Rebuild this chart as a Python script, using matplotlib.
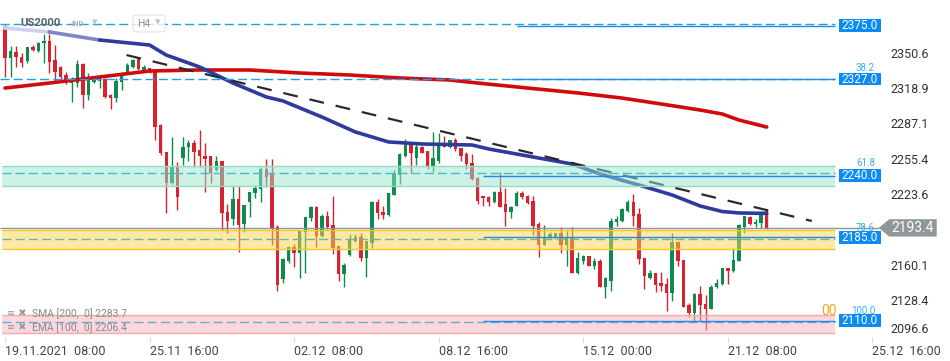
import matplotlib
matplotlib.use("Agg")
import matplotlib.pyplot as plt
from matplotlib.patches import Rectangle, Polygon, FancyBboxPatch

plt.rcParams["font.family"] = ["Roboto", "DejaVu Sans"]

# H4 candles, US2000, 19.11.2021 08:00 .. 22.12.2021 12:00
opens = [2374.6, 2345.9, 2351.2, 2346.8, 2343.2, 2355.7, 2352.1, 2359.3, 2361.1, 2344.1,
         2337.8, 2330.6, 2323.4, 2323.4, 2340.5, 2312.7, 2324.3, 2325.2, 2327.0, 2312.7,
         2310.0, 2324.3, 2333.3, 2337.8, 2345.0, 2335.1, 2336.9, 2333.3, 2285.7, 2261.5,
         2233.7, 2248.0, 2256.1, 2266.0, 2269.6, 2263.3, 2257.9, 2257.9, 2245.4, 2253.4,
         2207.7, 2201.4, 2219.3, 2196.9, 2216.6, 2224.7, 2228.3, 2246.2, 2241.8, 2194.2,
         2147.6, 2163.7, 2176.3, 2170.9, 2189.7, 2202.3, 2212.2, 2186.1, 2204.1, 2196.0,
         2177.2, 2152.0, 2169.1, 2181.6, 2185.2, 2166.4, 2179.9, 2216.6, 2207.7, 2205.0,
         2222.9, 2240.9, 2257.9, 2267.8, 2256.1, 2266.0, 2262.4, 2248.0, 2253.4, 2268.7,
         2266.0, 2272.3, 2265.1, 2259.7, 2251.6, 2238.2, 2222.0, 2221.1, 2216.6, 2225.6,
         2214.9, 2207.7, 2213.1, 2224.7, 2222.0, 2217.5, 2196.9, 2178.1, 2185.2, 2185.2,
         2188.8, 2178.1, 2185.2, 2152.9, 2163.7, 2168.2, 2159.2, 2163.7, 2140.4, 2145.8,
         2198.7, 2199.6, 2208.6, 2216.6, 2205.9, 2166.4, 2148.5, 2152.9, 2144.0, 2143.1,
         2135.0, 2180.7, 2164.6, 2124.2, 2117.0, 2134.1, 2125.1, 2120.6, 2140.4, 2143.1,
         2157.4, 2154.7, 2163.7, 2194.2, 2203.2, 2196.9, 2197.8, 2208.6]
highs = [2375.5, 2356.6, 2356.6, 2350.3, 2356.0, 2357.5, 2360.2, 2367.4, 2367.4, 2357.5,
         2338.5, 2333.3, 2328.8, 2344.1, 2341.0, 2332.4, 2328.8, 2330.6, 2327.5, 2313.6,
         2327.9, 2333.3, 2341.4, 2345.0, 2346.8, 2339.6, 2337.3, 2335.1, 2286.6, 2261.9,
         2275.0, 2252.5, 2275.0, 2272.3, 2272.3, 2281.2, 2269.6, 2258.3, 2257.9, 2253.8,
         2214.9, 2231.0, 2231.0, 2214.3, 2226.0, 2231.9, 2248.0, 2255.2, 2255.2, 2196.0,
         2166.0, 2176.8, 2179.0, 2191.0, 2203.6, 2212.6, 2212.6, 2205.9, 2208.6, 2222.0,
         2177.6, 2161.9, 2187.9, 2187.9, 2188.8, 2182.0, 2217.5, 2219.3, 2213.1, 2225.1,
         2245.4, 2260.6, 2273.2, 2270.5, 2269.6, 2266.9, 2262.8, 2279.5, 2278.6, 2275.9,
         2272.7, 2274.1, 2265.5, 2261.5, 2259.7, 2239.1, 2222.4, 2222.0, 2226.5, 2243.6,
         2229.2, 2212.6, 2226.5, 2226.5, 2222.9, 2222.0, 2198.7, 2196.0, 2189.7, 2189.2,
         2194.2, 2190.6, 2194.2, 2171.8, 2169.1, 2168.6, 2166.4, 2165.5, 2149.3, 2202.3,
         2204.1, 2211.3, 2218.4, 2223.8, 2211.3, 2166.8, 2155.6, 2153.3, 2153.8, 2148.5,
         2188.8, 2181.1, 2165.0, 2126.0, 2135.0, 2141.3, 2133.2, 2142.2, 2147.6, 2157.8,
         2157.8, 2175.4, 2196.9, 2204.5, 2204.1, 2201.4, 2208.6, 2210.4]
lows = [2328.8, 2328.8, 2337.8, 2337.8, 2341.4, 2352.5, 2351.5, 2341.4, 2332.4, 2324.3,
        2326.1, 2322.5, 2306.4, 2319.8, 2301.0, 2308.2, 2323.4, 2318.9, 2310.0, 2300.1,
        2306.4, 2317.1, 2332.4, 2337.3, 2335.1, 2333.3, 2332.8, 2272.3, 2258.8, 2206.8,
        2233.2, 2209.5, 2249.8, 2253.4, 2248.0, 2248.0, 2225.6, 2233.7, 2244.5, 2191.5,
        2188.8, 2196.0, 2171.8, 2189.7, 2203.2, 2220.2, 2216.6, 2230.1, 2178.1, 2136.8,
        2144.0, 2161.9, 2158.3, 2148.5, 2152.9, 2199.6, 2176.3, 2185.2, 2192.4, 2170.0,
        2145.8, 2140.4, 2168.2, 2180.7, 2163.7, 2149.3, 2175.4, 2201.4, 2201.4, 2204.5,
        2222.5, 2232.8, 2257.0, 2242.7, 2249.8, 2260.2, 2246.2, 2243.6, 2251.6, 2265.6,
        2265.1, 2262.4, 2253.4, 2246.2, 2236.4, 2214.9, 2213.1, 2213.1, 2215.7, 2211.8,
        2195.1, 2202.3, 2212.7, 2219.3, 2214.9, 2187.0, 2167.3, 2177.7, 2183.4, 2183.4,
        2170.9, 2159.2, 2152.5, 2152.0, 2161.0, 2158.8, 2156.5, 2140.0, 2130.5, 2136.8,
        2195.1, 2198.7, 2207.7, 2195.1, 2161.0, 2138.6, 2147.6, 2135.9, 2136.8, 2118.8,
        2127.8, 2159.2, 2122.0, 2113.5, 2109.0, 2109.0, 2101.8, 2120.2, 2139.5, 2142.2,
        2143.1, 2153.8, 2163.3, 2188.8, 2196.0, 2194.2, 2193.3, 2192.0]
closes = [2345.9, 2352.1, 2346.8, 2341.4, 2355.7, 2353.0, 2359.3, 2361.1, 2342.3, 2333.3,
          2328.8, 2324.3, 2326.1, 2340.5, 2312.7, 2327.0, 2327.0, 2327.9, 2310.9, 2310.0,
          2325.2, 2330.6, 2339.6, 2344.1, 2336.0, 2337.8, 2333.3, 2283.9, 2260.6, 2233.7,
          2248.9, 2221.1, 2266.0, 2269.6, 2261.5, 2257.9, 2255.2, 2242.7, 2253.4, 2206.8,
          2199.6, 2219.3, 2196.0, 2213.9, 2225.6, 2229.2, 2246.2, 2239.1, 2193.3, 2142.2,
          2165.5, 2176.3, 2170.9, 2190.6, 2203.2, 2212.2, 2186.1, 2204.1, 2194.2, 2175.4,
          2152.0, 2160.1, 2182.5, 2185.2, 2166.4, 2181.6, 2216.6, 2206.8, 2205.0, 2224.7,
          2242.7, 2259.7, 2267.8, 2260.6, 2266.0, 2260.6, 2248.0, 2256.1, 2269.6, 2266.0,
          2272.3, 2264.2, 2257.9, 2250.7, 2237.3, 2217.5, 2220.2, 2216.6, 2225.6, 2212.2,
          2207.7, 2212.2, 2224.7, 2221.1, 2215.7, 2195.1, 2178.1, 2185.2, 2187.9, 2188.8,
          2178.1, 2185.2, 2152.9, 2166.4, 2168.2, 2159.2, 2163.7, 2140.4, 2148.5, 2199.6,
          2201.4, 2210.4, 2216.6, 2204.1, 2165.5, 2150.2, 2152.9, 2142.2, 2141.3, 2135.0,
          2180.7, 2163.7, 2122.4, 2117.0, 2134.1, 2124.2, 2120.6, 2140.4, 2144.0, 2157.4,
          2154.7, 2164.6, 2196.0, 2204.1, 2196.9, 2198.7, 2207.7, 2193.4]

# moving averages read at a few bars
sma_bars = [0, 8, 17, 26, 35, 44, 53, 62, 71, 80, 85, 94, 103, 111, 118, 125, 129, 132, 137]
sma_vals = [2318.9, 2323.4, 2328.8, 2334.2, 2335.1, 2335.1, 2332.4, 2330.6, 2327.9, 2326.1,
            2323.4, 2318.9, 2314.5, 2309.9, 2304.6, 2299.2, 2295.6, 2290.2, 2283.9]
ema_bars = [0, 8, 17, 26, 29, 35, 41, 47, 50, 57, 63, 69, 75, 84, 87, 91, 96, 102, 107,
            114, 120, 125, 129, 132, 137]
ema_vals = [2372.8, 2369.2, 2362.0, 2357.5, 2348.5, 2337.8, 2323.4, 2310.9, 2307.3, 2292.9,
            2279.5, 2270.5, 2268.7, 2267.8, 2264.2, 2260.6, 2256.1, 2250.7, 2241.8, 2231.9,
            2222.9, 2213.1, 2208.1, 2206.8, 2206.4]

trend_bars = [21.85, 145.1]
trend_vals = [2348.5, 2199.6]

tick_bars = [0, 26, 52, 78, 104, 130, 156]
tick_labels = ["19.11.2021  08:00", "25.11  16:00", "02.12  08:00", "08.12  16:00",
               "15.12  00:00", "21.12  08:00", "25.12  16:00"]
price_ticks = [2350.6, 2318.9, 2287.1, 2255.4, 2223.6, 2160.1, 2128.4, 2096.6]

levels = [2375.0, 2327.0, 2240.0, 2185.0, 2110.0]
fib_names = ["38.2", "61.8", "78.6", "100.0"]
fib_y = [2337.0, 2251.5, 2193.0, 2118.5]
zones = [(2231.3, 2248.9), (2174.2, 2191.5), (2098.8, 2115.2)]
last_price = 2193.4

GREEN = "#0e8a50"
RED = "#d7232f"
BLUE_LBL = "#0b8cf2"
right_bar = 149.3  # right edge of the chart area

fig = plt.figure(figsize=(9.5, 3.61), dpi=100)
ax = fig.add_axes([0, 0.0665, 1, 0.9335])
ax.set_xlim(-0.9, 169.96)
ax.set_ylim(2095.5, 2397.9)

# candles
idx = list(range(len(opens)))
cols = [GREEN if c >= o else RED for o, c in zip(opens, closes)]
ax.vlines(idx, lows, highs, colors=cols, linewidth=1.0, zorder=2)
bottoms = [min(o, c) for o, c in zip(opens, closes)]
heights = [max(abs(c - o), 0.8) for o, c in zip(opens, closes)]
ax.bar(idx, heights, bottom=bottoms, width=0.62, color=cols, linewidth=0, zorder=2)

# moving averages
ax.plot(sma_bars, sma_vals, color="#d10a0a", lw=2.6, zorder=3, solid_capstyle="round")
ax.plot(ema_bars[:2], ema_vals[:2], color="#cfd1ec", lw=2.6, zorder=3)
ax.plot(ema_bars[1:3], ema_vals[1:3], color="#7f86c4", lw=2.6, zorder=3)
ax.plot(ema_bars[2:], ema_vals[2:], color="#2e3a9c", lw=2.6, zorder=3, solid_capstyle="round")

# trend line
ax.plot(trend_bars, trend_vals, color="#2a2a2a", lw=1.6, dashes=(6.7, 5.4), zorder=4)

# horizontal dashed levels across the chart
ax.hlines([2376.2, 2327.0], -0.9, right_bar, colors="#1aa3e8", lw=1.0,
          linestyles=(0, (6.5, 3)), zorder=4)

# zones (translucent, over candles)
zone_fill = ["#9be6cb", "#fcd34d", "#f7b3ba"]
zone_edge = ["#8fdcc0", "#f5c928", "#f3aab0"]
zone_mid = [2242.4, 2183.2, 2108.7]
zone_dash = ["#4ab6e2", "#6fb59a", "#6ea6e0"]
for (lo, hi), fc, ec, mid, dc in zip(zones, zone_fill, zone_edge, zone_mid, zone_dash):
    ax.add_patch(Rectangle((-0.5, lo), right_bar + 0.5, hi - lo, facecolor=fc,
                           alpha=0.5, edgecolor="none", zorder=5))
    ax.hlines([lo, hi], -0.5, right_bar, colors=ec, lw=1.0, zorder=6)
    ax.hlines(mid, -0.5, right_bar, colors=dc, lw=1.0, linestyles=(0, (6.5, 3)), zorder=6)

# fibo level lines
fib_start = [92, 91, 86, 86, 86]
ax.hlines(levels, fib_start, right_bar, colors="#1f8ae8", lw=1.0, zorder=6)

# current price line
ax.hlines(last_price, -0.9, 157.2, colors="#8c9497", lw=1.0, zorder=6)

yt = ax.get_yaxis_transform()
for name, y in zip(fib_names, fib_y):
    ax.text(0.921, y, name, transform=yt, ha="right", va="center", fontsize=7,
            color="#3aaef0", zorder=7)
ax.text(0.864, 2118.5, "00", transform=yt, ha="left", va="center", fontsize=10,
        color="#f5a623", zorder=7)

for v in levels:
    ax.add_patch(Rectangle((0.883, v - 5.8), 0.044, 11.6, transform=yt, facecolor=BLUE_LBL,
                           edgecolor="none", clip_on=False, zorder=8))
    ax.text(0.905, v, f"{v:.1f}", transform=yt, ha="center", va="center", fontsize=8.5,
            color="white", zorder=9)

ax.add_patch(Polygon([(0.925, last_price), (0.936, last_price + 7.8), (0.986, last_price + 7.8),
                      (0.986, last_price - 7.8), (0.936, last_price - 7.8)], closed=True,
                     transform=yt, facecolor="#8f9799", edgecolor="none", clip_on=False, zorder=8))
ax.text(0.961, last_price, f"{last_price:.1f}", transform=yt, ha="center", va="center",
        fontsize=10, color="white", zorder=9)

# axes
for s in ax.spines.values():
    s.set_visible(False)
ax.set_xticks(tick_bars)
ax.set_xticklabels(tick_labels)
for lbl in ax.get_xticklabels():
    lbl.set_ha("left")
ax.tick_params(axis="x", length=4, color="#dddddd", labelsize=9, labelcolor="#444444", pad=2)
ax.yaxis.tick_right()
ax.set_yticks(price_ticks)
ax.set_yticklabels([f"{v:.1f}" for v in price_ticks])
ax.tick_params(axis="y", direction="in", length=0, pad=-43.2, labelsize=9, labelcolor="#333333")
for lbl in ax.get_yticklabels():
    if lbl.get_text() == "2096.6":
        lbl.set_va("bottom")

# header
fig.text(20 / 950, 1 - 23 / 361, "US2000", fontsize=8.2, fontweight="bold", color="#5a6066",
         va="center", ha="left")
fig.text(71 / 950, 1 - 24 / 361, "IND", fontsize=5.5, fontweight="bold", color="#b0b4b8",
         va="center", ha="left")
fig.text(92 / 950, 1 - 22 / 361, "\u25be", fontsize=8, color="#c0c4c8", va="center",
         ha="left", family=["DejaVu Sans"])
fig.patches.append(FancyBboxPatch((133 / 950, 1 - 32 / 361), 32 / 950, 17 / 361,
                                  boxstyle="round,pad=0,rounding_size=0.006",
                                  transform=fig.transFigure, facecolor="white", alpha=0.8,
                                  edgecolor="#dcdcdc", lw=0.8))
fig.text(137 / 950, 1 - 24 / 361, "H4", fontsize=7.5, color="#8a8e92", va="center", ha="left")
fig.text(155 / 950, 1 - 22 / 361, "\u25be", fontsize=8, color="#c0c4c8", va="center",
         ha="left", family=["DejaVu Sans"])

# indicator legend
fig.text(7 / 950, 1 - 313 / 361, "\u2261 \u2716", fontsize=7, color="#9a9a9a", va="center",
         ha="left", family=["DejaVu Sans"])
fig.text(32 / 950, 1 - 314 / 361, "SMA [200,  0] 2283.7", fontsize=7.5, color="#8a8a8a",
         va="center", ha="left")
fig.text(7 / 950, 1 - 327 / 361, "\u2261 \u2716", fontsize=7, color="#9a9a9a", va="center",
         ha="left", family=["DejaVu Sans"])
fig.text(32 / 950, 1 - 328 / 361, "EMA [100,  0] 2206.4", fontsize=7.5, color="#8a8a8a",
         va="center", ha="left")

fig.savefig("out.png", dpi=100)
